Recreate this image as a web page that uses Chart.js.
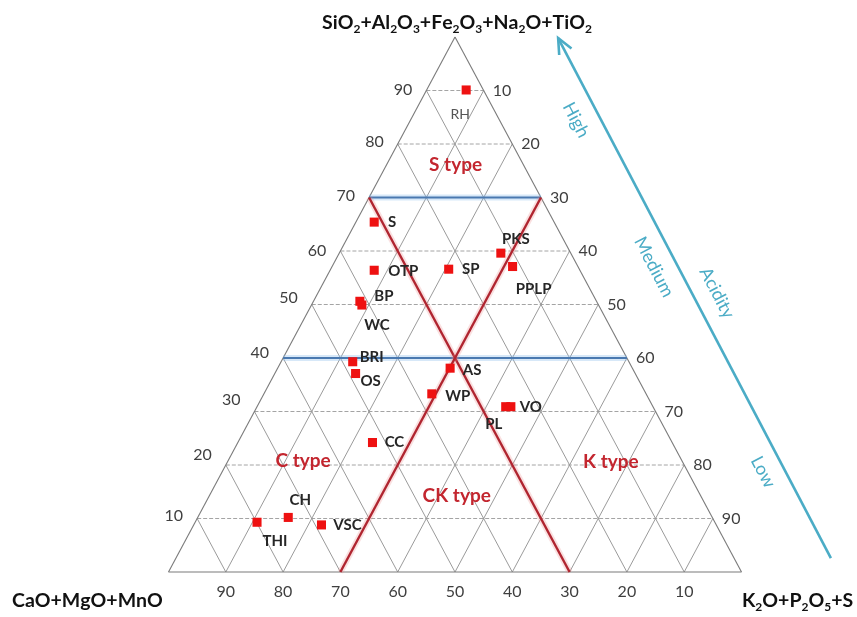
<!DOCTYPE html>
<html>
<head>
<meta charset="utf-8">
<script src="https://cdn.jsdelivr.net/npm/chart.js@4.4.1/dist/chart.umd.min.js"></script>
<style>
  html, body { margin: 0; padding: 0; background: #fff; }
  #wrap { width: 857px; height: 617px; }
</style>
</head>
<body>
<div id="wrap"><canvas id="c" width="857" height="617"></canvas></div>
<script>
// Fuel samples and their oxide-group shares (wt %)
const samples        = ['RH','S','OTP','SP','PKS','PPLP','BP','WC','BRI','OS','CC','AS','WP','VO','PL','CH','THI','VSC'];
// SiO2+Al2O3+Fe2O3+Na2O+TiO2 (top apex)
const acidGroup      = [90.1,65.4,56.4,56.6,59.6,57.1,50.6,49.9,39.3,37.1,24.2,38.1,33.3,30.9,30.9,10.2, 9.3, 8.8];
// CaO+MgO+MnO (bottom-left apex)
const calciumGroup   = [ 3.0,31.4,35.9,22.8,12.2,11.4,41.3,41.3,48.2,48.8,52.3,31.8,37.4,24.8,25.7,74.0,79.9,68.9];
// K2O+P2O5+S (bottom-right apex)
const potassiumGroup = [ 6.9, 3.2, 7.7,20.6,28.2,31.5, 8.1, 8.8,12.5,14.1,23.5,30.1,29.3,44.3,43.4,15.8,10.8,22.3];

// Grid steps and tick labels on the three sides
const gridSteps       = [10,20,30,40,50,60,70,80,90];
const acidTicks       = ['10','20','30','40','50','60','70','80','90'];   // left side, at acid = step
const potassiumTicks  = ['90','80','70','60','50','40','30','20','10'];   // right side, at acid = step
const calciumTicks    = ['90','80','70','60','50','40','30','20','10'];   // base, at x = step

// Classification boundaries
const acidityLevels = [70, 40];   // horizontal acid-group limits
const ckBoundary    = 30;         // C/K type limits (CaO group = 30, K2O group = 30)
const typeNames     = ['S type','C type','CK type','K type'];
const acidityWords  = ['High','Medium','Low'];

// Ternary -> Cartesian (0..100 across base, 0..100 up to apex)
function tern(a, c, k) {
  const s = a + c + k;
  return { x: (k + a / 2) * 100 / s, y: a * 100 / s };
}

const points = samples.map((n, i) => tern(acidGroup[i], calciumGroup[i], potassiumGroup[i]));

const FONT = 'Lato, "Open Sans", "Liberation Sans", sans-serif';

function P(chart, p) {
  return { x: chart.scales.x.getPixelForValue(p.x), y: chart.scales.y.getPixelForValue(p.y) };
}
function line(ctx, chart, a, b) {
  const A = P(chart, a), B = P(chart, b);
  ctx.beginPath(); ctx.moveTo(A.x, A.y); ctx.lineTo(B.x, B.y); ctx.stroke();
}

// Draws chemical formula text; "_n" marks a subscript digit
function chem(ctx, text, x, y, size, align) {
  const parts = [];
  for (let i = 0; i < text.length; i++) {
    if (text[i] === '_') { parts.push({ t: text[i + 1], sub: true }); i++; }
    else parts.push({ t: text[i], sub: false });
  }
  const big = 'bold ' + size + 'px ' + FONT;
  const small = 'bold ' + Math.round(size * 0.62) + 'px ' + FONT;
  let w = 0;
  parts.forEach(p => { ctx.font = p.sub ? small : big; p.w = ctx.measureText(p.t).width; w += p.w; });
  let cx = align === 'center' ? x - w / 2 : (align === 'right' ? x - w : x);
  ctx.textAlign = 'left';
  ctx.textBaseline = 'alphabetic';
  parts.forEach(p => {
    ctx.font = p.sub ? small : big;
    ctx.fillText(p.t, cx, p.sub ? y + size * 0.2 : y);
    cx += p.w;
  });
}

const ternaryFrame = {
  id: 'ternaryFrame',
  beforeDatasetsDraw(chart) {
    const ctx = chart.ctx;
    ctx.save();
    ctx.lineCap = 'butt';
    // diagonal grid lines
    ctx.strokeStyle = '#8f8f8f';
    ctx.lineWidth = 0.9;
    gridSteps.forEach(s => {
      line(ctx, chart, tern(0, s, 100 - s), tern(100 - s, s, 0));
      line(ctx, chart, tern(0, 100 - s, s), tern(100 - s, 0, s));
    });
    // horizontal dashed grid lines
    ctx.setLineDash([4, 2]);
    ctx.strokeStyle = '#9a9a9a';
    gridSteps.forEach(s => line(ctx, chart, tern(s, 100 - s, 0), tern(s, 0, 100 - s)));
    ctx.setLineDash([]);
    // outline
    ctx.strokeStyle = '#7a7a7a';
    ctx.lineWidth = 1.1;
    line(ctx, chart, tern(0, 100, 0), tern(0, 0, 100));
    line(ctx, chart, tern(0, 100, 0), tern(100, 0, 0));
    line(ctx, chart, tern(0, 0, 100), tern(100, 0, 0));

    // acidity limits
    acidityLevels.forEach(a => {
      ctx.strokeStyle = 'rgba(140,190,235,0.35)'; ctx.lineWidth = 6;
      line(ctx, chart, tern(a, 100 - a, 0), tern(a, 0, 100 - a));
      ctx.strokeStyle = '#4a79b0'; ctx.lineWidth = 2.2;
      line(ctx, chart, tern(a, 100 - a, 0), tern(a, 0, 100 - a));
    });
    // C / K type limits
    const top = acidityLevels[0];
    const reds = [
      [tern(top, ckBoundary, 100 - top - ckBoundary), tern(0, ckBoundary, 100 - ckBoundary)],
      [tern(top, 100 - top - ckBoundary, ckBoundary), tern(0, 100 - ckBoundary, ckBoundary)]
    ];
    reds.forEach(([a, b]) => {
      ctx.strokeStyle = 'rgba(235,130,130,0.25)'; ctx.lineWidth = 6; line(ctx, chart, a, b);
      ctx.strokeStyle = '#b02530'; ctx.lineWidth = 2.4; line(ctx, chart, a, b);
    });
    ctx.restore();
  },
  afterDatasetsDraw(chart) {
    const ctx = chart.ctx;
    ctx.save();
    // tick labels
    ctx.fillStyle = '#3f3f3f';
    ctx.font = '16px ' + FONT;
    ctx.textBaseline = 'middle';
    const leftNudge = [3, 10, 12, 5, 7, 0, 1.5, 2, 1];
    gridSteps.forEach((s, i) => {
      const L = P(chart, tern(s, 100 - s, 0));
      ctx.textAlign = 'right';
      ctx.fillText(acidTicks[i], L.x - 14, L.y - leftNudge[i]);
      const R = P(chart, tern(s, 0, 100 - s));
      ctx.textAlign = 'left';
      ctx.fillText(potassiumTicks[i], R.x + 9, R.y);
      const B = P(chart, { x: s, y: 0 });
      ctx.textAlign = 'center';
      ctx.fillText(calciumTicks[i], B.x, B.y + 20);
    });

    // sample labels
    const offs = {
      RH: [-6, 24.5], S: [18, 0], OTP: [29, 1], SP: [22, 0], PKS: [15, -14], PPLP: [21, 23],
      BP: [24, -5], WC: [15, 20], BRI: [19, -5], OS: [15, 8], CC: [22, 0], AS: [22, 2],
      WP: [26, 2], VO: [20, 0], PL: [-12, 17], CH: [12, -17], THI: [18, 19], VSC: [26, 0]
    };
    const meta = chart.getDatasetMeta(0);
    ctx.textAlign = 'center';
    ctx.textBaseline = 'middle';
    samples.forEach((n, i) => {
      const el = meta.data[i];
      const o = offs[n] || [16, 0];
      if (n === 'RH') { ctx.font = '14px ' + FONT; ctx.fillStyle = '#555'; }
      else { ctx.font = 'bold 15px ' + FONT; ctx.fillStyle = '#262626'; }
      ctx.fillText(n, el.x + o[0], el.y + o[1]);
    });

    // type labels
    const typePos = [tern(76.1, 11.85, 12.05), tern(20.7, 66.15, 13.15), tern(14.2, 42.6, 43.2), tern(20.6, 12.5, 66.9)];
    ctx.font = 'bold 19px ' + FONT;
    ctx.fillStyle = '#c3262f';
    typeNames.forEach((t, i) => {
      const p = P(chart, typePos[i]);
      ctx.fillText(t, p.x, p.y);
    });

    // axis titles
    ctx.fillStyle = '#111';
    chem(ctx, 'SiO_2+Al_2O_3+Fe_2O_3+Na_2O+TiO_2', 457, 29, 19.5, 'center');
    chem(ctx, 'CaO+MgO+MnO', 12, 607, 19.5, 'left');
    chem(ctx, 'K_2O+P_2O_5+S', 742, 607, 19.5, 'left');

    // acidity arrow
    const tip = P(chart, { x: 68.0, y: 99.8 });
    const tail = P(chart, { x: 115.6, y: 2.6 });
    ctx.strokeStyle = '#4bacc6';
    ctx.lineWidth = 2.6;
    ctx.beginPath(); ctx.moveTo(tail.x, tail.y); ctx.lineTo(tip.x, tip.y); ctx.stroke();
    const ang = Math.atan2(tail.y - tip.y, tail.x - tip.x);
    const hl = 17, ha = 0.42;
    ctx.beginPath();
    ctx.moveTo(tip.x + hl * Math.cos(ang - ha), tip.y + hl * Math.sin(ang - ha));
    ctx.lineTo(tip.x, tip.y);
    ctx.lineTo(tip.x + hl * Math.cos(ang + ha), tip.y + hl * Math.sin(ang + ha));
    ctx.stroke();

    // acidity words along the arrow
    ctx.fillStyle = '#4bacc6';
    ctx.font = '18px ' + FONT;
    ctx.textAlign = 'center';
    ctx.textBaseline = 'middle';
    const wordPos = [[576, 120], [654, 267], [763, 472]];
    const txt = [...acidityWords.map((w, i) => [w, wordPos[i]]), ['Acidity', [717, 293]]];
    txt.forEach(([w, p]) => {
      ctx.save();
      ctx.translate(p[0], p[1]);
      ctx.rotate(ang);
      ctx.fillText(w, 0, 0);
      ctx.restore();
    });
    ctx.restore();
  }
};

new Chart(document.getElementById('c'), {
  type: 'scatter',
  data: {
    datasets: [{
      label: 'Samples',
      data: points,
      pointStyle: 'rect',
      pointRadius: 6.4,
      pointHoverRadius: 6.4,
      backgroundColor: '#ee1111',
      borderWidth: 0,
      clip: false
    }]
  },
  options: {
    responsive: false,
    animation: false,
    events: [],
    layout: { padding: { left: 168.5, right: 115.5, top: 37, bottom: 45 } },
    scales: {
      x: { type: 'linear', min: 0, max: 100, display: false },
      y: { type: 'linear', min: 0, max: 100, display: false }
    },
    plugins: { legend: { display: false }, tooltip: { enabled: false }, title: { display: false } }
  },
  plugins: [ternaryFrame]
});
</script>
</body>
</html>
